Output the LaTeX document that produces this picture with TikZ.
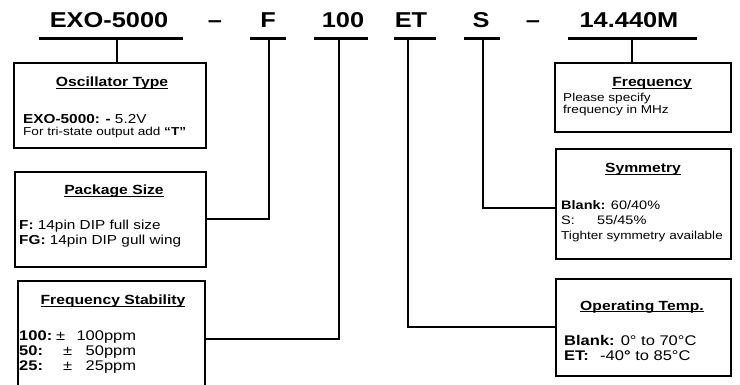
\documentclass[tikz,border=0pt]{standalone}
\usepackage{fontspec}
\setmainfont[FakeStretch=1.18]{Liberation Sans}
\newcommand{\myul}[1]{\setbox0\hbox{#1}\rlap{\rule[-2pt]{\wd0}{1pt}}\box0}
\begin{document}
\begin{tikzpicture}[x=1pt,y=-1pt,
  code/.style={font=\bfseries\fontsize{21.5}{21.5}\selectfont, inner sep=0pt, anchor=base},
  uline/.style={line width=3pt},
  conn/.style={line width=1.4pt},
  box/.style={draw, line width=2.2pt, inner sep=0pt, anchor=north west},
  ttl/.style={font=\bfseries\fontsize{13.3}{14}\selectfont, inner sep=0pt, anchor=base},
  body/.style={font=\fontsize{13}{15}\selectfont, inner sep=0pt, anchor=base west},
  bigbody/.style={font=\fontsize{14}{15}\selectfont, inner sep=0pt, anchor=base west},
  symbody/.style={font=\fontsize{12.3}{15}\selectfont, inner sep=0pt, anchor=base west},
  small/.style={font=\fontsize{11.5}{12}\selectfont, inner sep=0pt, anchor=base west}]
\useasboundingbox (0,0) rectangle (740,385);
\fill[white] (0,0) rectangle (740,385);
% codes
\node[code] (cexo) at (109,28) {EXO-5000};
\node[code] (d1) at (215,28) {–};
\node[code] (cf) at (268,28) {F};
\node[code] (c100) at (343,28) {100};
\node[code] (cet) at (411,28) {ET};
\node[code] (cs) at (481,28) {S};
\node[code] (d2) at (533,28) {–};
\node[code] (cm) at (629,28) {14.440M};
% underlines
\draw[uline] (39,39) -- (183,39);
\draw[uline] (250,39) -- (286,39);
\draw[uline] (314,39) -- (368,39);
\draw[uline] (394,39) -- (436,39);
\draw[uline] (464,39) -- (500,39);
\draw[uline] (568,39) -- (697,39);
\coordinate (texo) at (117,40);
\coordinate (tf) at (269,40);
\coordinate (t100) at (339,40);
\coordinate (tet) at (408,40);
\coordinate (ts) at (483,40);
\coordinate (tm) at (632,40);
% boxes
\node[box, minimum width=192pt, minimum height=85pt] (osc) at (13,62) {};
\node[box, minimum width=191pt, minimum height=95pt] (pkg) at (14,171) {};
\node[box, minimum width=187pt, minimum height=130pt] (stab) at (17,280) {};
\node[box, minimum width=176pt, minimum height=69pt] (freq) at (554,62) {};
\node[box, minimum width=175pt, minimum height=110pt] (sym) at (555,148) {};
\node[box, minimum width=175pt, minimum height=97pt] (temp) at (555,278) {};
% connectors
\draw[conn] (texo) -- (texo |- osc.north);
\draw[conn] (tm) -- (tm |- freq.north);
\draw[conn] (tf) |- (pkg.east |- 0,219);
\draw[conn] (t100) |- (stab.east |- 0,339);
\draw[conn] (ts) |- (sym.west |- 0,208);
\draw[conn] (tet) |- (temp.west |- 0,327);
% oscillator type
\node[ttl] (osct) at (112,87) {\myul{Oscillator Type}};
\node[body] (osc1) at (23,123.5) {\textbf{EXO-5000: -} 5.2V};
\node[small] (osc2) at (23,136) {For tri-state output add \textbf{“T”}};
% package size
\node[ttl] (pkgt) at (114,195) {\myul{Package Size}};
\node[body] (pkg1) at (19,230) {\textbf{F:} 14pin DIP full size};
\node[body] (pkg2) at (19,245) {\textbf{FG:} 14pin DIP gull wing};
% frequency stability
\node[ttl] (stabt) at (113,305) {\myul{Frequency Stability}};
\node[bigbody] (stab1) at (19,340.5) {\makebox[37pt][l]{\textbf{100:}}\makebox[80pt][l]{±\hfill 100ppm}};
\node[bigbody] (stab2) at (19,355.5) {\makebox[44pt][l]{\textbf{50:}}\makebox[73pt][l]{±\hfill 50ppm}};
\node[bigbody] (stab3) at (19,370.5) {\makebox[44pt][l]{\textbf{25:}}\makebox[73pt][l]{±\hfill 25ppm}};
% frequency
\node[ttl] (freqt) at (652,87) {\myul{Frequency}};
\node[small] (freq1) at (563,102) {Please specify};
\node[small] (freq2) at (563,114) {frequency in MHz};
% symmetry
\node[ttl] (symt) at (643,173) {\myul{Symmetry}};
\node[symbody] (sym1) at (561,209.5) {\textbf{Blank:} 60/40\%};
\node[symbody] (sym2) at (561,224.5) {\makebox[36pt][l]{S:}55/45\%};
\node[small] (sym3) at (561,239.5) {Tighter symmetry available};
% operating temp
\node[ttl] (tempt) at (642,310) {\myul{Operating Temp.}};
\node[bigbody] (temp1) at (564,345.5) {\textbf{Blank:} 0° to 70°C};
\node[bigbody] (temp2) at (564,360.5) {\makebox[36pt][l]{\textbf{ET:}}-40\textbf{°} to 85°C};
\end{tikzpicture}
\end{document}
